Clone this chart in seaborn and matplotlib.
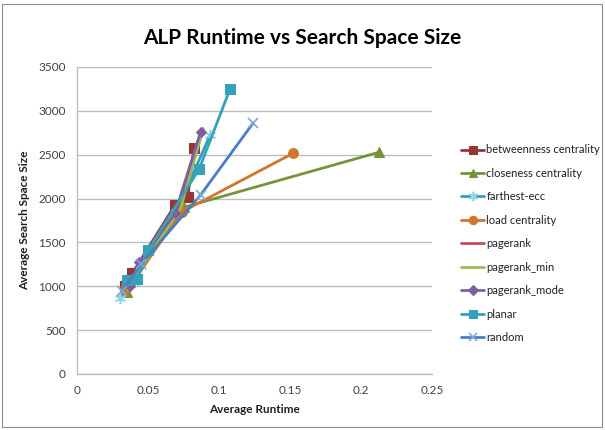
import matplotlib
matplotlib.use("Agg")
import matplotlib.pyplot as plt
import seaborn as sns
import pandas as pd
from matplotlib.patches import Rectangle

# Average runtime (s) and average search space size for each ALP ordering heuristic
series_names = [
    "betweenness centrality", "closeness centrality", "farthest-ecc",
    "load centrality", "pagerank", "pagerank_min", "pagerank_mode",
    "planar", "random",
]
runtime_betweenness = [0.034, 0.039, 0.069, 0.078, 0.0824]
search_betweenness = [1000, 1150, 1925, 2016, 2575]
runtime_closeness = [0.035, 0.041, 0.075, 0.2126]
search_closeness = [940, 1080, 1900, 2528]
runtime_farthest = [0.030, 0.040, 0.070, 0.0936]
search_farthest = [870, 1050, 1850, 2720]
runtime_load = [0.034, 0.041, 0.074, 0.152]
search_load = [970, 1100, 1850, 2515]
runtime_pagerank = [0.035, 0.040, 0.072, 0.084]
search_pagerank = [990, 1120, 1900, 2600]
runtime_pagerank_min = [0.036, 0.042, 0.073, 0.089]
search_pagerank_min = [960, 1140, 1890, 2800]
runtime_pagerank_mode = [0.037, 0.044, 0.069, 0.087]
search_pagerank_mode = [1000, 1280, 1830, 2760]
runtime_planar = [0.035, 0.042, 0.050, 0.086, 0.1077]
search_planar = [1070, 1080, 1410, 2335, 3246]
runtime_random = [0.032, 0.045, 0.087, 0.124]
search_random = [950, 1250, 2040, 2860]

x_ticks = [0, 0.05, 0.1, 0.15, 0.2, 0.25]
x_tick_labels = ["0", "0.05", "0.1", "0.15", "0.2", "0.25"]
y_ticks = [0, 500, 1000, 1500, 2000, 2500, 3000, 3500]

runtimes = [runtime_betweenness, runtime_closeness, runtime_farthest, runtime_load,
            runtime_pagerank, runtime_pagerank_min, runtime_pagerank_mode,
            runtime_planar, runtime_random]
searches = [search_betweenness, search_closeness, search_farthest, search_load,
            search_pagerank, search_pagerank_min, search_pagerank_mode,
            search_planar, search_random]

styles = {
    "betweenness centrality": dict(color="#953735", marker="s", ms=6.5),
    "closeness centrality": dict(color="#77933C", marker="^", ms=7.5),
    "farthest-ecc": dict(color="#31A0B8", marker=(6, 2, 0), ms=8, mec="#8FD3E6"),
    "load centrality": dict(color="#D0762E", marker="o", ms=7),
    "pagerank": dict(color="#C0504D", marker=None, ms=0),
    "pagerank_min": dict(color="#9BBB59", marker=None, ms=0),
    "pagerank_mode": dict(color="#7F5FA0", marker="D", ms=5.5),
    "planar": dict(color="#35A2BA", marker="s", ms=7),
    "random": dict(color="#4A7EC0", marker="x", ms=7.5, mec="#7FA7DA"),
}

sns.set_style("white")
plt.rcParams["font.family"] = ["Lato", "DejaVu Sans"]

fig = plt.figure(figsize=(6.05, 4.30), dpi=100)
ax = fig.add_axes([77 / 605, 1 - 374 / 430, 355 / 605, 307 / 430])

for name, xs, ys in zip(series_names, runtimes, searches):
    st = styles[name]
    df = pd.DataFrame({"runtime": xs, "search": ys})
    kw = dict(color=st["color"], linewidth=2.0, sort=False, estimator=None, ax=ax,
              label=name)
    if st["marker"] is not None:
        kw.update(marker=st["marker"], markersize=st["ms"],
                  markeredgecolor=st.get("mec", st["color"]),
                  markeredgewidth=1.2 if st.get("mec") else 0.8,
                  markerfacecolor=st["color"])
    sns.lineplot(data=df, x="runtime", y="search", **kw)

handles, labels = ax.get_legend_handles_labels()
if ax.get_legend() is not None:
    ax.get_legend().remove()

ax.set_xlim(0, 0.25)
ax.set_ylim(0, 3500)
ax.set_xticks(x_ticks)
ax.set_xticklabels(x_tick_labels)
ax.set_yticks(y_ticks)
ax.yaxis.grid(True, color="#BDBDBD", linewidth=1.0)
ax.xaxis.grid(False)
ax.set_axisbelow(True)
for side in ("top", "right"):
    ax.spines[side].set_visible(False)
for side in ("left", "bottom"):
    ax.spines[side].set_color("#BDBDBD")
    ax.spines[side].set_linewidth(1.0)
ax.tick_params(axis="both", labelsize=8.5, colors="#404040", length=4,
               color="#BDBDBD", direction="out", pad=4)

ax.set_xlabel("Average Runtime", fontsize=8.5, fontweight="bold", color="#202020",
              labelpad=6)
ax.set_ylabel("Average Search Space Size", fontsize=8.5, fontweight="bold",
              color="#202020", labelpad=6)
fig.text(0.5, 1 - 38 / 430, "ALP Runtime vs Search Space Size", ha="center",
         va="center", fontsize=15, fontweight="bold", color="#000000")

leg = fig.legend(handles, labels, loc="upper left",
                 bbox_to_anchor=(457 / 605, 1 - 140 / 430), frameon=False,
                 fontsize=8.0, handlelength=2.0, handletextpad=0.25,
                 labelspacing=1.12, borderaxespad=0, markerscale=0.85)
for t in leg.get_texts():
    t.set_color("#202020")

fig.patches.append(Rectangle((1.5 / 605, 3 / 430), 600 / 605, 423 / 430,
                             transform=fig.transFigure, fill=False,
                             edgecolor="#8C8C8C", linewidth=0.8))

fig.savefig("out.png", dpi=100)
